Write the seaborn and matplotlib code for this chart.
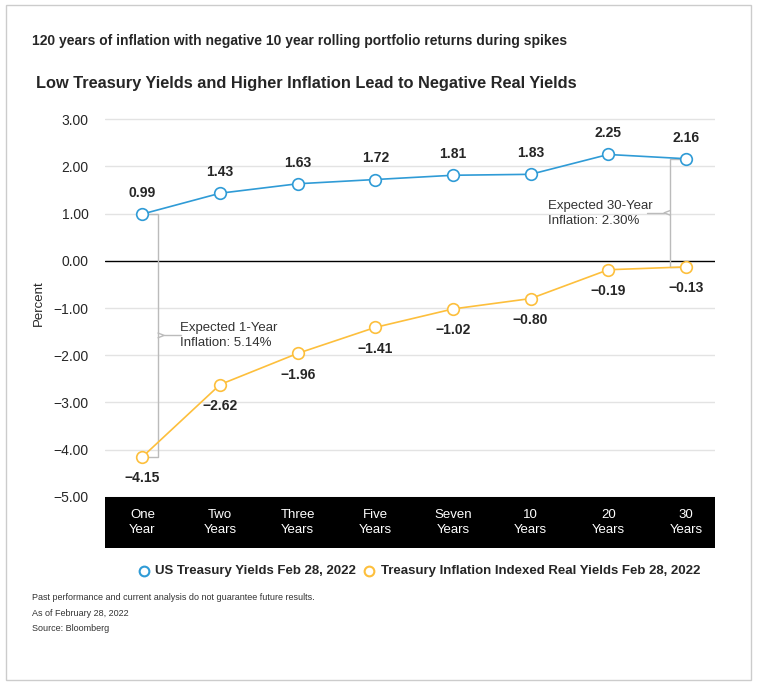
#real_yields_chart.py
import pandas as pd
import numpy as np
import matplotlib.pyplot as plt
from matplotlib.lines import Line2D
import seaborn as sns

# -------------------------------
# Data
# -------------------------------
maturities = ['One\nYear', 'Two\nYears', 'Three\nYears', 'Five\nYears',
              'Seven\nYears', '10\nYears', '20\nYears', '30\nYears']
nominal = [0.99, 1.43, 1.63, 1.72, 1.81, 1.83, 2.25, 2.16]
real = [-4.15, -2.62, -1.96, -1.41, -1.02, -0.80, -0.19, -0.13]

df = pd.DataFrame({'pos': np.arange(len(maturities)), 'nominal': nominal, 'real': real})

blue = '#2f9bd6'
gold = '#fdbf3c'

# -------------------------------
# Figure
# -------------------------------
sns.set_style("white")
plt.rcParams['font.family'] = ['Liberation Sans', 'DejaVu Sans']
fig = plt.figure(figsize=(7.57, 6.85), dpi=100)
ax = fig.add_axes([0.139, 0.2745, 0.806, 0.5655])

for y in np.arange(-5, 3.01, 1):
    ax.axhline(y, color='black' if y == 0 else '#e3e3e3', lw=1.0, zorder=0)

sns.lineplot(data=df, x='pos', y='nominal', color=blue, lw=1.2, ax=ax, zorder=2)
sns.lineplot(data=df, x='pos', y='real', color=gold, lw=1.2, ax=ax, zorder=2)
sns.scatterplot(data=df, x='pos', y='nominal', s=70, facecolor='white', edgecolor=blue,
                linewidth=1.2, ax=ax, zorder=3)
sns.scatterplot(data=df, x='pos', y='real', s=70, facecolor='white', edgecolor=gold,
                linewidth=1.2, ax=ax, zorder=3)

# value labels
for i, row in df.iterrows():
    ax.text(row['pos'], row['nominal'] + 0.3, f"{row['nominal']:.2f}", ha='center',
            va='bottom', fontsize=10, fontweight='bold')
    ax.text(row['pos'], row['real'] - 0.3, f"{row['real']:.2f}".replace('-', '\u2212'),
            ha='center', va='top', fontsize=10, fontweight='bold')

# brackets for expected inflation
def bracket(x, y0, y1, side, label, lx, ly, ha):
    ax.plot([x - side * 0.2, x, x, x - side * 0.2], [y0, y0, y1, y1], color='#bbbbbb', lw=1, zorder=1)
    ym = (y0 + y1) / 2
    ax.plot([x, x + side * 0.08, x], [ym + 0.05, ym, ym - 0.05], color='#bbbbbb', lw=1, zorder=1)
    ax.plot([x + side * 0.08, x + side * 0.3], [ym, ym], color='#bbbbbb', lw=1, zorder=1)
    ax.text(lx, ly, label, ha=ha, va='center', fontsize=9.5, color='#333333', linespacing=1.3)

bracket(0.2, 0.99, -4.15, 1, 'Expected 1-Year\nInflation: 5.14%', 0.48, -1.58, 'left')
bracket(6.8, 2.16, -0.13, -1, 'Expected 30-Year\nInflation: 2.30%', 5.23, 1.0, 'left')

ax.set_xlim(-0.48, 7.38)
ax.set_ylim(-5, 3.2)
ax.set_yticks(np.arange(-5, 3.01, 1))
ax.set_yticklabels([f"{v:.2f}".replace('-', '\u2212') for v in np.arange(-5, 3.01, 1)], fontsize=10)
ax.tick_params(axis='y', length=0, pad=12)
ax.set_xticks([])
ax.set_xlabel('')
ax.set_ylabel('Percent', fontsize=9.5, labelpad=6)
sns.despine(ax=ax, left=True, bottom=True)

# black category band
band = fig.add_axes([0.139, 0.2, 0.806, 0.0745])
band.set_facecolor('black')
band.set_xlim(-0.48, 7.38)
band.set_ylim(0, 1)
for i, m in enumerate(maturities):
    band.text(i, 0.5, m, color='white', ha='center', va='center', fontsize=9.5, linespacing=1.4)
band.set_xticks([])
band.set_yticks([])
for s in band.spines.values():
    s.set_visible(False)

# titles
fig.text(0.042, 0.94, '120 years of inflation with negative 10 year rolling portfolio returns during spikes',
         fontsize=10, fontweight='bold', va='center')
fig.text(0.048, 0.878, 'Low Treasury Yields and Higher Inflation Lead to Negative Real Yields',
         fontsize=11.8, fontweight='bold', va='center')

# legend
for mx, col in [(0.19, blue), (0.488, gold)]:
    fig.add_artist(Line2D([mx], [0.167], marker='o', markersize=7, markerfacecolor='white',
                          markeredgecolor=col, markeredgewidth=1.5, transform=fig.transFigure))
fig.text(0.205, 0.167, 'US Treasury Yields Feb 28, 2022', fontsize=9.5, fontweight='bold', va='center')
fig.text(0.503, 0.167, 'Treasury Inflation Indexed Real Yields Feb 28, 2022', fontsize=9.5,
         fontweight='bold', va='center')

# footnotes
fig.text(0.042, 0.124, 'Past performance and current analysis do not guarantee future results.', fontsize=6.5, color='#333333')
fig.text(0.042, 0.101, 'As of February 28, 2022', fontsize=6.5, color='#333333')
fig.text(0.042, 0.079, 'Source: Bloomberg', fontsize=6.5, color='#333333')

# frame
fig.add_artist(plt.Rectangle((0.008, 0.008), 0.984, 0.984, transform=fig.transFigure,
                             fill=False, edgecolor='#cccccc', lw=1))

fig.savefig('out.png', dpi=100)
